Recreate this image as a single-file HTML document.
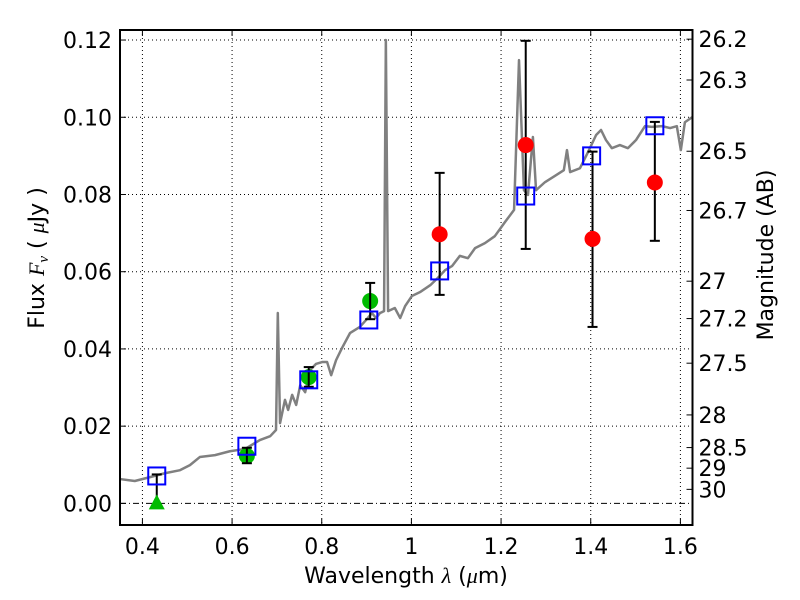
<!DOCTYPE html>
<html><head><meta charset="utf-8"><style>
body{margin:0;background:#fff}
svg{display:block;font-family:"DejaVu Sans","Liberation Sans",sans-serif}
</style></head><body>
<svg id="chart" width="800" height="600" viewBox="0 0 800 600"></svg>
<script>
const xTicks=[0.4,0.6,0.8,1.0,1.2,1.4,1.6];
const xTickLabels=["0.4","0.6","0.8","1","1.2","1.4","1.6"];
const yTicks=[0,0.02,0.04,0.06,0.08,0.10,0.12];
const yTickLabels=["0.00","0.02","0.04","0.06","0.08","0.10","0.12"];
const magTicks=[26.2,26.3,26.5,26.7,27,27.2,27.5,28,28.5,29,30];
const specWave=[0.350,0.383,0.417,0.450,0.484,0.506,0.528,0.562,0.595,0.629,0.662,0.685,0.698,0.702,0.707,0.718,0.725,0.734,0.743,0.752,0.763,0.774,0.787,0.801,0.812,0.821,0.832,0.845,0.863,0.885,0.899,0.912,0.921,0.930,0.939,0.943,0.948,0.963,0.975,0.986,1.001,1.019,1.042,1.059,1.075,1.091,1.108,1.126,1.142,1.164,1.186,1.209,1.229,1.240,1.251,1.260,1.271,1.278,1.298,1.320,1.340,1.347,1.354,1.376,1.394,1.412,1.423,1.434,1.447,1.465,1.483,1.501,1.521,1.536,1.559,1.577,1.592,1.601,1.610,1.626];
const specFlux=[0.0063,0.0058,0.0068,0.0078,0.0086,0.0099,0.0120,0.0125,0.0135,0.0141,0.0164,0.0174,0.0190,0.0493,0.0208,0.0268,0.0242,0.0281,0.0255,0.0306,0.0288,0.0345,0.0361,0.0366,0.0366,0.0332,0.0371,0.0402,0.0441,0.0457,0.0475,0.0493,0.0480,0.0493,0.0498,0.1200,0.0498,0.0506,0.0480,0.0511,0.0537,0.0547,0.0565,0.0584,0.0604,0.0615,0.0641,0.0635,0.0661,0.0674,0.0692,0.0729,0.0760,0.1148,0.0811,0.0799,0.0949,0.0811,0.0832,0.0848,0.0863,0.0915,0.0858,0.0868,0.0910,0.0954,0.0967,0.0941,0.0920,0.0928,0.0920,0.0941,0.0977,0.0975,0.0977,0.0972,0.0977,0.0915,0.0987,0.1000];
const modelWave=[0.432,0.633,0.771,0.905,1.063,1.255,1.402,1.543];
const modelFlux=[0.0071,0.0148,0.032,0.0475,0.0602,0.0796,0.090,0.0978];
const greenWave=[0.633,0.771,0.908];
const greenFlux=[0.0123,0.0327,0.0524];
const greenLo=[0.0104,0.0302,0.0477];
const greenHi=[0.0144,0.0353,0.0571];
const limWave=[0.432];
const limFlux=[0.0];
const limHi=[0.0075];
const redWave=[1.063,1.255,1.404,1.543];
const redFlux=[0.0697,0.0928,0.0685,0.0831];
const redLo=[0.054,0.0659,0.0457,0.068];
const redHi=[0.0856,0.1198,0.0911,0.0988];

const L=120,R=692.5,T=30,B=525,xmin=0.35,xmax=1.627,ymin=-0.0056,ymax=0.1226;
const X=v=>L+(v-xmin)/(xmax-xmin)*(R-L);
const Y=v=>B-(v-ymin)/(ymax-ymin)*(B-T);
const NS="http://www.w3.org/2000/svg";
const svg=document.getElementById('chart');
function mk(tag,attrs,parent){const e=document.createElementNS(NS,tag);for(const k in attrs)e.setAttribute(k,attrs[k]);(parent||svg).appendChild(e);return e;}

const grid=mk('g',{});


xTicks.forEach(v=>{mk('line',{x1:X(v),x2:X(v),y1:T,y2:B,stroke:'#000','stroke-width':1,'stroke-dasharray':'1,3'},grid);});
yTicks.forEach(v=>{mk('line',{x1:L,x2:R,y1:Y(v),y2:Y(v),stroke:'#000','stroke-width':1,'stroke-dasharray':v===0?'6,3,1,3':'1,3'},grid);});

const spec=mk('polyline',{points:specWave.map((w,i)=>X(w)+','+Y(specFlux[i])).join(' '),fill:'none',stroke:'#808080','stroke-width':2.5,'stroke-linejoin':'round'});



function errbar(g,x,lo,hi){
  mk('line',{x1:X(x),x2:X(x),y1:Y(lo),y2:Y(hi),stroke:'#000','stroke-width':2},g);
  mk('line',{x1:X(x)-5,x2:X(x)+5,y1:Y(lo),y2:Y(lo),stroke:'#000','stroke-width':2},g);
  mk('line',{x1:X(x)-5,x2:X(x)+5,y1:Y(hi),y2:Y(hi),stroke:'#000','stroke-width':2},g);
}
limWave.forEach((w,i)=>{
  const g=mk('g',{});
  
  
  mk('line',{x1:X(w),x2:X(w),y1:Y(limFlux[i]),y2:Y(limHi[i]),stroke:'#000','stroke-width':2},g);
  mk('line',{x1:X(w)-5,x2:X(w)+5,y1:Y(limHi[i]),y2:Y(limHi[i]),stroke:'#000','stroke-width':2},g);
  const cx=X(w),cy=Y(limFlux[i]);
  mk('polygon',{points:`${cx},${cy-9} ${cx-8},${cy+6} ${cx+8},${cy+6}`,fill:'#00bb00'},g);
});
greenWave.forEach((w,i)=>{
  const g=mk('g',{});
  
  
  mk('circle',{cx:X(w),cy:Y(greenFlux[i]),r:8,fill:'#00bb00'},g);
  errbar(g,w,greenLo[i],greenHi[i]);
});
redWave.forEach((w,i)=>{
  const g=mk('g',{});
  
  
  errbar(g,w,redLo[i],redHi[i]);
  mk('circle',{cx:X(w),cy:Y(redFlux[i]),r:8,fill:'#ff0000'},g);
});
modelWave.forEach((w,i)=>{
  const r=mk('rect',{x:X(w)-8.5,y:Y(modelFlux[i])-8.5,width:17,height:17,fill:'none',stroke:'#0000ff','stroke-width':2});
  
  
});

const frame=mk('rect',{x:L,y:T,width:R-L,height:B-T,fill:'none',stroke:'#000','stroke-width':2});



xTicks.forEach((v,i)=>{
  mk('line',{x1:X(v),x2:X(v),y1:B,y2:B-6,stroke:'#000','stroke-width':1});
  mk('line',{x1:X(v),x2:X(v),y1:T,y2:T+6,stroke:'#000','stroke-width':1});
  const t=mk('text',{x:X(v),y:B+29,'font-size':22,'text-anchor':'middle'});t.textContent=xTickLabels[i];
  
  
});
yTicks.forEach((v,i)=>{
  mk('line',{x1:L,x2:L+6,y1:Y(v),y2:Y(v),stroke:'#000','stroke-width':1});
  const t=mk('text',{x:L-8,y:Y(v)+8,'font-size':22,'text-anchor':'end'});t.textContent=yTickLabels[i];
  
  
});
magTicks.forEach(m=>{
  const f=Math.pow(10,(23.9-m)/2.5);
  const y=Y(f);
  mk('line',{x1:R,x2:R-6,y1:y,y2:y,stroke:'#000','stroke-width':1});
  const t=mk('text',{x:R+6,y:y+8,'font-size':22});t.textContent=String(m);
  
  
});

const xt=mk('text',{x:406,y:583,'font-size':22,'text-anchor':'middle'});
xt.innerHTML='Wavelength  <tspan font-style="italic" font-family="Liberation Serif,serif">λ</tspan> (<tspan font-style="italic" font-family="Liberation Serif,serif">μ</tspan>m)';


const yt=mk('text',{x:0,y:0,'font-size':22,'text-anchor':'middle',transform:'translate(44,258) rotate(-90)'});
yt.innerHTML='Flux  <tspan font-style="italic" font-family="Liberation Serif,serif">F</tspan><tspan font-style="italic" font-family="Liberation Serif,serif" font-size="15" dy="4">ν</tspan><tspan dy="-4">  (  </tspan><tspan font-style="italic" font-family="Liberation Serif,serif">μ</tspan>Jy )';


const rt=mk('text',{x:0,y:0,'font-size':22,'text-anchor':'middle',transform:'translate(773,255) rotate(-90)'});
rt.textContent='Magnitude (AB)';


</script>
</body></html>
